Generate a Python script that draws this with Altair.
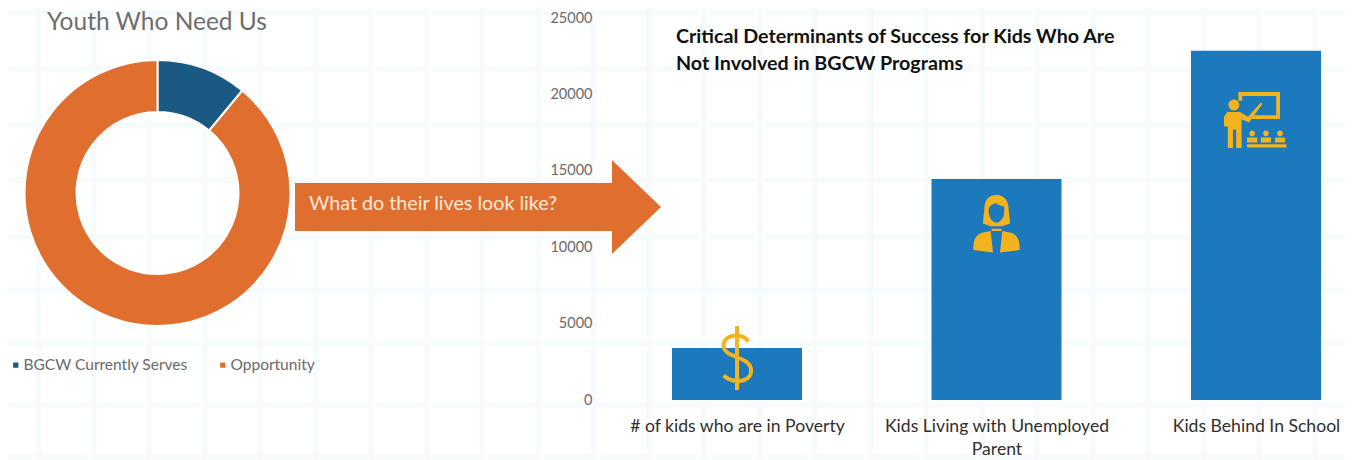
import altair as alt
import pandas as pd

FONT = "Lato"
ORANGE = "#e06f2f"
NAVY = "#1a5a82"
BLUE = "#1c79bb"
GOLD = "#f2b31e"
LATTICE = "#f6fbfd"

# Donut
slices = ["BGCW Currently Serves", "Opportunity"]
slice_values = [11, 89]
# Bars
categories = ["# of kids who are in Poverty", "Kids Living with Unemployed Parent", "Kids Behind In School"]
bar_values = [3400, 14470, 22850]
y_ticks = [0, 5000, 10000, 15000, 20000, 25000]
# Faint background lattice
lattice_x = [30, 86, 141, 197, 252, 308, 363, 419, 474, 530, 585, 641, 696, 752, 807, 863, 918, 974, 1029, 1085, 1140, 1196, 1251, 1307]
lattice_y = [5, 61, 117, 172, 229, 282, 335, 397, 449]

W, H = 1337, 392

bg_x = alt.Chart(pd.DataFrame({"g": lattice_x})).mark_rule(color=LATTICE, strokeWidth=5).encode(
    x=alt.X("g:Q", scale=None, axis=None), y=alt.value(-8), y2=alt.value(452))
bg_y = alt.Chart(pd.DataFrame({"g": lattice_y})).mark_rule(color=LATTICE, strokeWidth=5).encode(
    y=alt.Y("g:Q", scale=None, axis=None), x=alt.value(-8), x2=alt.value(1345))

donut = alt.Chart(pd.DataFrame({"s": slices, "v": slice_values, "o": [0, 1]})).mark_arc(
    radius=133, radius2=81, stroke="white", strokeWidth=2
).encode(
    theta=alt.Theta("v:Q", stack=True, scale=alt.Scale(domain=[0, 100], range=[0, 6.28318530718])),
    order=alt.Order("o:Q"),
    color=alt.Color("s:N", scale=alt.Scale(domain=slices, range=[NAVY, ORANGE]), legend=alt.Legend(
        title=None, orient="none", legendX=0, legendY=349, direction="horizontal",
        symbolType="square", symbolSize=45, labelFont=FONT, labelFontSize=15.5, labelLimit=300,
        labelColor="#6a6a6a", columnPadding=27, labelOffset=0)),
    x=alt.value(149.5), y=alt.value(185),
)

def caption(text, x, y, size, color, weight="normal", align="left"):
    return alt.Chart(pd.DataFrame({"t": [text]})).mark_text(
        align=align, baseline="middle", font=FONT, fontSize=size, color=color, fontWeight=weight
    ).encode(x=alt.value(x), y=alt.value(y), text="t:N")

ARROW = "M-1,-0.131 L0.732,-0.131 L0.732,-0.257 L1,0 L0.732,0.257 L0.732,0.131 L-1,0.131 Z"
arrow = alt.Chart(pd.DataFrame({"a": ["arrow"]})).mark_point(
    shape=ARROW, size=366 ** 2, filled=True, fill=ORANGE, strokeWidth=0, opacity=1
).encode(x=alt.value(470), y=alt.value(199))

x_scale = alt.Scale(type="point", domain=categories, range=[729, 1248], padding=0)
y_scale = alt.Scale(domain=[0, 25000], range=[392, 10])

bars = alt.Chart(pd.DataFrame({"c": categories, "v": bar_values})).mark_bar(size=130, color=BLUE).encode(
    x=alt.X("c:N", scale=x_scale, sort=categories, axis=alt.Axis(
        title=None, domain=False, ticks=False, labelAngle=0, labelFont=FONT, labelFontSize=17.6,
        labelColor="#2f2f2f", labelPadding=17, labelLimit=400, labelLineHeight=23, zindex=1,
        labelExpr="datum.label == 'Kids Living with Unemployed Parent' ? ['Kids Living with Unemployed', 'Parent'] : datum.label")),
    y=alt.Y("v:Q", scale=y_scale, axis=alt.Axis(
        title=None, values=y_ticks, domain=False, ticks=False, grid=False, offset=-590, zindex=1,
        labelFont=FONT, labelFontSize=14.5, labelColor="#6a6a6a", labelPadding=6, format="d")),
)

DOLLAR = "M0.36,-0.52 C0.12,-0.8 -0.42,-0.75 -0.42,-0.38 C-0.42,0.02 0.44,-0.08 0.44,0.4 C0.44,0.78 -0.12,0.8 -0.42,0.55 M0,-1 L0,1"
PERSON = (
    "M0,-1 C0.3,-1 0.42,-0.75 0.42,-0.5 L0.47,-0.02 L0.2,0.08 L-0.2,0.08 L-0.47,-0.02 L-0.42,-0.5 C-0.42,-0.8 -0.3,-1 0,-1 Z "
    "M-0.02,-0.72 C-0.2,-0.65 -0.27,-0.6 -0.27,-0.45 C-0.27,-0.2 -0.12,-0.05 0,-0.05 C0.12,-0.05 0.27,-0.2 0.27,-0.45 L0.27,-0.6 C0.15,-0.62 0.05,-0.65 -0.02,-0.72 Z "
    "M-0.2,0.24 L-0.5,0.3 C-0.75,0.38 -0.8,0.6 -0.8,0.9 L-0.12,0.98 Z "
    "M0.2,0.24 L0.5,0.3 C0.75,0.38 0.8,0.6 0.8,0.9 L0.12,0.98 Z "
    "M-0.17,0.16 L0.17,0.16 L0.17,0.24 L-0.17,0.24 Z"
)
def pupil(c):
    return (f"M{c-0.09},0.42 A0.09,0.09 0 1 1 {c+0.09},0.42 A0.09,0.09 0 1 1 {c-0.09},0.42 Z "
            f"M{c-0.16},0.7 L{c-0.16},0.55 L{c+0.16},0.55 L{c+0.16},0.7 Z ")
TEACHER = (
    "M-0.55,-0.875 L0.75,-0.875 L0.75,-0.03 L-0.2,-0.03 L-0.2,-0.15 L0.63,-0.15 L0.63,-0.75 L-0.43,-0.75 L-0.43,-0.6 L-0.55,-0.6 Z "
    "M-0.86,-0.47 A0.17,0.17 0 1 1 -0.52,-0.47 A0.17,0.17 0 1 1 -0.86,-0.47 Z "
    "M-0.9,-0.25 L-0.5,-0.25 L-0.25,-0.1 L0.15,-0.55 L0.2,-0.5 L-0.22,0.08 L-0.45,-0.02 L-0.45,0.875 L-0.62,0.875 L-0.62,0.3 L-0.72,0.3 L-0.72,0.875 L-0.88,0.875 L-0.88,0.2 L-1,0.2 L-1,-0.1 Z "
    + pupil(-0.12) + pupil(0.31) + pupil(0.75) +
    "M-0.28,0.76 L0.95,0.76 L0.95,0.86 L-0.28,0.86 Z"
)

def icon(cat, shape, y, size, filled=True):
    kw = {"fill": GOLD, "strokeWidth": 0, "opacity": 1, "filled": True} if filled else {
        "stroke": GOLD, "strokeWidth": 4, "opacity": 1, "filled": False}
    return alt.Chart(pd.DataFrame({"c": [cat]})).mark_point(shape=shape, size=size, **kw).encode(
        x=alt.X("c:N", scale=x_scale, axis=None), y=alt.value(y))

chart = alt.layer(
    bg_x, bg_y, arrow, donut, bars,
    icon(categories[0], DOLLAR, 350, 4096, filled=False),
    icon(categories[1], PERSON, 216, 3364),
    icon(categories[2], TEACHER, 112, 4096),
    caption("Youth Who Need Us", 39, 15, 24.5, "#6e6e6e"),
    caption("What do their lives look like?", 301, 196, 19.7, "#fde8d8"),
    caption("Critical Determinants of Success for Kids Who Are", 668, 29, 19.7, "#111111", "bold"),
    caption("Not Involved in BGCW Programs", 668, 56, 19.7, "#111111", "bold"),
).resolve_scale(x="independent", y="independent").properties(
    width=W, height=H, background="white",
    padding={"left": 0, "top": 0, "right": 0, "bottom": 60},
    autosize=alt.AutoSizeParams(type="none"),
).configure_view(stroke=None)

chart.save("out.html", embed_options={"renderer": "svg", "actions": False})
